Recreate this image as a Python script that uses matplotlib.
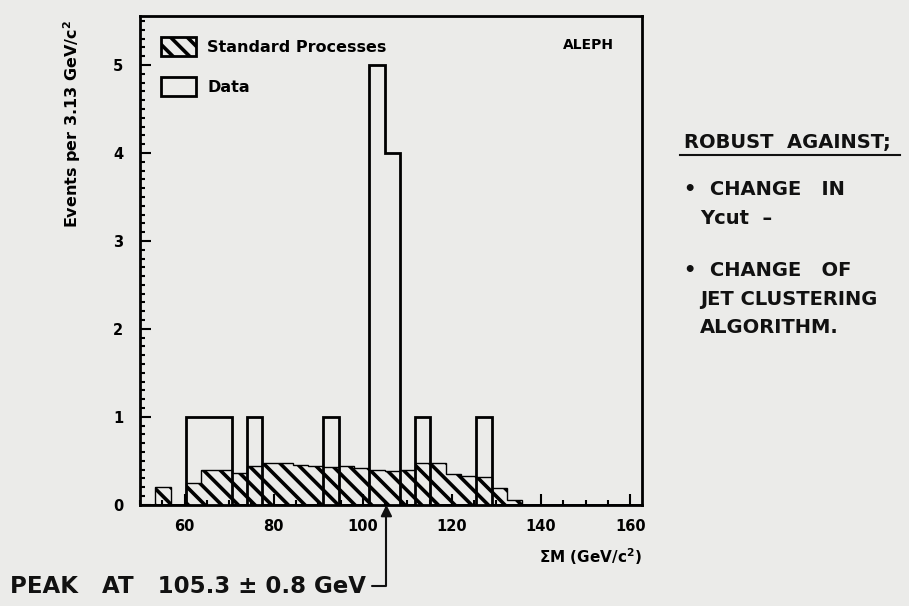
import numpy as np
import matplotlib
matplotlib.use("Agg")
import matplotlib.pyplot as plt
from matplotlib.patches import Patch
from matplotlib.ticker import MultipleLocator

# histogram binning as it appears on the page (starts at 50 GeV)
bin_start = 50.0
bin_width = 3.43
# standard processes (hatched), per bin
bkg = [0.00, 0.20, 0.00, 0.25, 0.39, 0.39, 0.36, 0.44, 0.48, 0.48,
       0.45, 0.44, 0.43, 0.44, 0.42, 0.40, 0.38, 0.40, 0.48, 0.48,
       0.35, 0.33, 0.32, 0.19, 0.05, 0.00, 0.00, 0.00, 0.00, 0.00,
       0.00, 0.00, 0.00]
# data events, per bin
data = [0, 0, 0, 1, 1, 1, 0, 1, 0, 0,
        0, 0, 1, 0, 0, 5, 4, 0, 1, 0,
        0, 0, 1, 0, 0, 0, 0, 0, 0, 0,
        0, 0, 0]
xticks = [60, 80, 100, 120, 140, 160]
yticks = [0, 1, 2, 3, 4, 5]
peak = 105.3

edges = bin_start + bin_width*np.arange(len(bkg)+1)

plt.rcParams['font.family'] = ['DejaVu Sans']
plt.rcParams['hatch.linewidth'] = 2.6
plt.rcParams['hatch.color'] = 'black'

bg = '#ebebe9'
ink = '#111111'
fig = plt.figure(figsize=(9.09, 6.06), dpi=100, facecolor=bg)
ax = fig.add_axes([0.154, 0.167, 0.552, 0.807])
ax.set_facecolor(bg)

ax.bar(edges[:-1], bkg, width=bin_width, align='edge', facecolor='none',
       edgecolor='black', hatch='\\\\', linewidth=0)
ax.stairs(bkg, edges, color='black', lw=1.0)
ax.stairs(data, edges, color='black', lw=2.0)

ax.set_xlim(50, 162.6)
ax.set_ylim(0, 5.56)
ax.set_xticks(xticks)
ax.set_yticks(yticks)
ax.xaxis.set_minor_locator(MultipleLocator(5))
ax.yaxis.set_minor_locator(MultipleLocator(0.1))
ax.tick_params(which='both', direction='in', top=False, right=False, width=1.5)
ax.tick_params(which='major', length=8, labelsize=10.5, pad=12)
ax.tick_params(axis='x', which='major', pad=10)
ax.tick_params(which='minor', length=3.5)
for lab in ax.get_xticklabels() + ax.get_yticklabels():
    lab.set_fontweight('bold')
for s in ax.spines.values():
    s.set_linewidth(2.0)

ax.set_xlabel(r'$\mathbf{\Sigma}$M (GeV/c$^\mathbf{2}$)', fontsize=11, fontweight='bold')
ax.xaxis.set_label_coords(1.0, -0.085)
ax.xaxis.label.set_horizontalalignment('right')
fig.text(0.079, 0.967, r'Events per 3.13 GeV/c$^\mathbf{2}$', rotation=90, ha='center', va='top',
         fontsize=11.5, fontweight='bold')

handles = [Patch(facecolor='none', edgecolor='black', hatch='\\\\', lw=2.0),
           Patch(facecolor='none', edgecolor='black', lw=2.0)]
ax.legend(handles, ['Standard Processes', 'Data'], loc='upper left', frameon=False,
          handlelength=2.2, handleheight=1.5, borderaxespad=0.9, labelspacing=1.3,
          handletextpad=0.7, prop={'weight': 'bold', 'size': 11.5})
ax.text(0.945, 0.955, 'ALEPH', transform=ax.transAxes, ha='right', va='top',
        fontsize=10, fontweight='bold')

# hand-written notes
hw = dict(fontsize=14, fontweight='bold', color=ink)
fig.text(0.752, 0.755, 'ROBUST  AGAINST;', **hw)
fig.add_artist(plt.Line2D([0.748, 0.99], [0.745, 0.745], color=ink, lw=1.5))
fig.text(0.752, 0.678, '•  CHANGE   IN', **hw)
fig.text(0.770, 0.630, 'Ycut  –', **hw)
fig.text(0.752, 0.545, '•  CHANGE   OF', **hw)
fig.text(0.770, 0.497, 'JET CLUSTERING', **hw)
fig.text(0.770, 0.450, 'ALGORITHM.', **hw)

ax.annotate('PEAK   AT   105.3 ± 0.8 GeV', xy=(peak, 0), xycoords='data',
            xytext=(0.011, 0.022), textcoords='figure fraction',
            fontsize=16.5, fontweight='bold', color=ink, annotation_clip=False,
            arrowprops=dict(arrowstyle='-|>', color=ink, lw=1.5,
                            connectionstyle='angle,angleA=0,angleB=90,rad=0',
                            shrinkA=2, shrinkB=0))

plt.savefig('out.png', dpi=100, facecolor=bg)
